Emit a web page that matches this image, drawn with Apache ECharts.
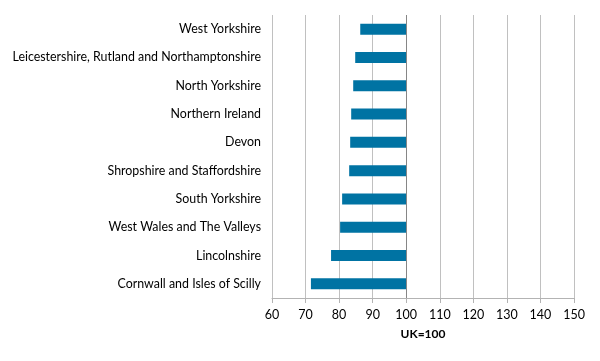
<!DOCTYPE html>
<html><head><meta charset="utf-8">
<script src="https://cdn.jsdelivr.net/npm/echarts@6/dist/echarts.min.js"></script>
<style>html,body{margin:0;padding:0;background:#fff}#c{width:600px;height:361px}</style>
</head><body><div id="c"></div>
<script>
var categories = ["West Yorkshire","Leicestershire, Rutland and Northamptonshire","North Yorkshire","Northern Ireland","Devon","Shropshire and Staffordshire","South Yorkshire","West Wales and The Valleys","Lincolnshire","Cornwall and Isles of Scilly"];
var values = [86.3, 84.8, 84.2, 83.6, 83.3, 83.0, 80.9, 80.3, 77.6, 71.6];
var baseline = 100;
var xTicks = {min: 60, max: 150, interval: 10};
var axisTitle = "UK=100";

var cats = categories.slice().reverse();
var vals = values.slice().reverse();
var chart = echarts.init(document.getElementById('c'), null, {renderer: 'canvas'});
var font = 'Lato';
chart.setOption({
  animation: false,
  grid: {left: 272, right: 26, top: 15, bottom: 63, containLabel: false},
  xAxis: {
    type: 'value', min: xTicks.min, max: xTicks.max, interval: xTicks.interval,
    name: axisTitle, nameLocation: 'middle', nameGap: 30,
    nameTextStyle: {fontFamily: font, fontSize: 12, fontWeight: 'bold', color: '#000'},
    axisLine: {show: true, lineStyle: {color: '#b3b3b3'}},
    axisTick: {show: true, length: 5, lineStyle: {color: '#b3b3b3'}},
    axisLabel: {fontFamily: font, fontSize: 12.5, color: '#000', margin: 10},
    splitLine: {show: true, lineStyle: {color: '#c0c0c0', width: 1}}
  },
  yAxis: {
    type: 'category', data: cats,
    axisLine: {show: false}, axisTick: {show: false},
    axisLabel: {fontFamily: font, fontSize: 12.4, color: '#000', margin: 11}
  },
  series: [
    {type: 'bar', stack: 's', data: vals, itemStyle: {color: 'transparent'}, barWidth: '39%', silent: true},
    {type: 'bar', stack: 's', data: vals.map(function(v){return baseline - v;}), itemStyle: {color: '#0073A3'}, barWidth: '39%',
     markLine: {silent: true, symbol: 'none', label: {show: false}, lineStyle: {color: '#868686', type: 'solid', width: 1},
       data: [{xAxis: baseline}]}}
  ]
});
</script></body></html>
